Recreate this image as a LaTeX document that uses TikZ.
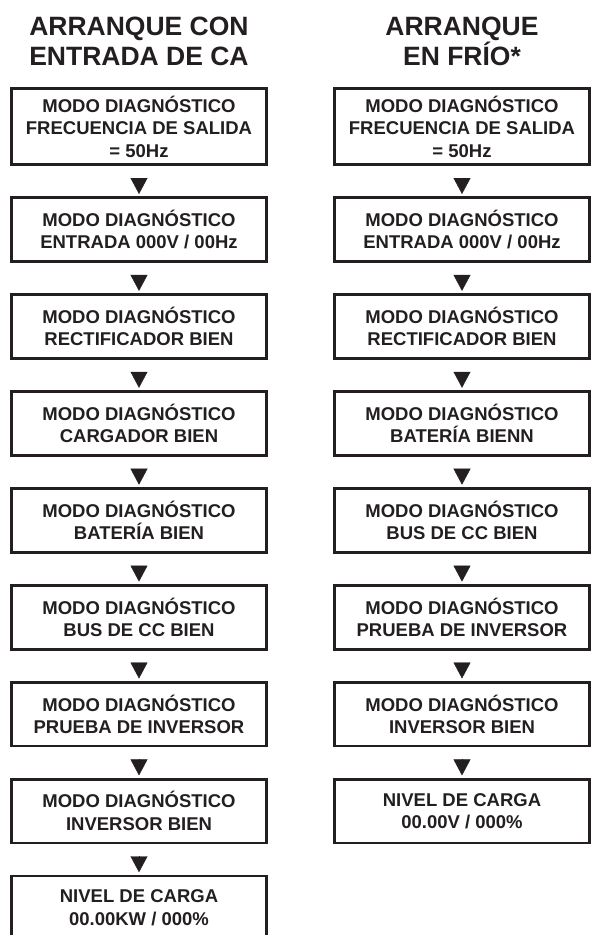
\documentclass[tikz,border=0pt]{standalone}
\usepackage{fontspec}
\setmainfont{Liberation Sans}
\usetikzlibrary{arrows.meta,positioning}
\definecolor{ink}{RGB}{35,31,32}
\tikzset {
  >={Triangle[width=17pt,length=16pt]},
  every node/.style={font=\bfseries\fontsize{18.5}{22.5}\selectfont,text=ink},
  screen/.style={draw=ink,line width=2.7pt,minimum width=255.3pt,minimum height=63.8pt,align=center,inner sep=0pt,
    execute at begin node={\rule{0pt}{18.5pt}}},
  heading/.style={font=\bfseries\fontsize{26.5}{30.3}\selectfont,align=center,inner sep=0pt},
  stepdown/.style={->,draw=ink,fill=ink,line width=0.4pt,shorten <=12pt,shorten >=2.4pt},
}

\begin{document}
\begin{tikzpicture}[x=1pt,y=1pt,node distance=30.4pt]
          \useasboundingbox (0,0) rectangle (591,-935);
          \clip (0,0) rectangle (591,-935);

          \node[screen,minimum height=76.3pt] (ac1) at (139,-126.5) {MODO DIAGNÓSTICO\\FRECUENCIA DE SALIDA\\= 50Hz};
          \node[screen,below=of ac1] (ac2) {MODO DIAGNÓSTICO\\ENTRADA 000V / 00Hz};
          \node[screen,below=of ac2] (ac3) {MODO DIAGNÓSTICO\\RECTIFICADOR BIEN};
          \node[screen,below=of ac3] (ac4) {MODO DIAGNÓSTICO\\CARGADOR BIEN};
          \node[screen,below=of ac4] (ac5) {MODO DIAGNÓSTICO\\BATERÍA BIEN};
          \node[screen,below=of ac5] (ac6) {MODO DIAGNÓSTICO\\BUS DE CC BIEN};
          \node[screen,below=of ac6] (ac7) {MODO DIAGNÓSTICO\\PRUEBA DE INVERSOR};
          \node[screen,below=of ac7] (ac8) {MODO DIAGNÓSTICO\\INVERSOR BIEN};
          \node[screen,below=of ac8] (ac9) {NIVEL DE CARGA\\00.00KW / 000\%};
          \node[heading,above=21pt of ac1] (achead) {ARRANQUE CON\\ENTRADA DE CA};

          \draw[stepdown] (ac1) -- (ac2);
          \draw[stepdown] (ac2) -- (ac3);
          \draw[stepdown] (ac3) -- (ac4);
          \draw[stepdown] (ac4) -- (ac5);
          \draw[stepdown] (ac5) -- (ac6);
          \draw[stepdown] (ac6) -- (ac7);
          \draw[stepdown] (ac7) -- (ac8);
          \draw[stepdown] (ac8) -- (ac9);

          \node[screen,minimum height=76.3pt] (cold1) at (462,-126.5) {MODO DIAGNÓSTICO\\FRECUENCIA DE SALIDA\\= 50Hz};
          \node[screen,below=of cold1] (cold2) {MODO DIAGNÓSTICO\\ENTRADA 000V / 00Hz};
          \node[screen,below=of cold2] (cold3) {MODO DIAGNÓSTICO\\RECTIFICADOR BIEN};
          \node[screen,below=of cold3] (cold4) {MODO DIAGNÓSTICO\\BATERÍA BIENN};
          \node[screen,below=of cold4] (cold5) {MODO DIAGNÓSTICO\\BUS DE CC BIEN};
          \node[screen,below=of cold5] (cold6) {MODO DIAGNÓSTICO\\PRUEBA DE INVERSOR};
          \node[screen,below=of cold6] (cold7) {MODO DIAGNÓSTICO\\INVERSOR BIEN};
          \node[screen,below=of cold7] (cold8) {NIVEL DE CARGA\\00.00V / 000\%};
          \node[heading,above=21pt of cold1] (coldhead) {ARRANQUE\\EN FRÍO*};

          \draw[stepdown] (cold1) -- (cold2);
          \draw[stepdown] (cold2) -- (cold3);
          \draw[stepdown] (cold3) -- (cold4);
          \draw[stepdown] (cold4) -- (cold5);
          \draw[stepdown] (cold5) -- (cold6);
          \draw[stepdown] (cold6) -- (cold7);
          \draw[stepdown] (cold7) -- (cold8);
        \end{tikzpicture}
\end{document}
